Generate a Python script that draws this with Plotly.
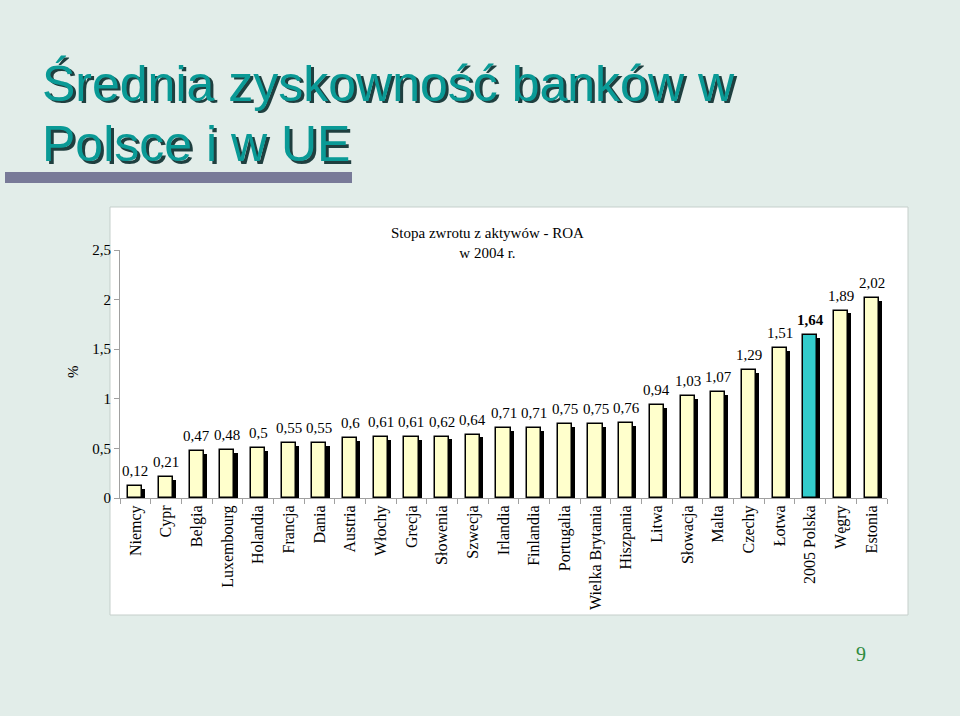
import plotly.graph_objects as go

categories = ["Niemcy", "Cypr", "Belgia", "Luxembourg", "Holandia", "Francja", "Dania",
              "Austria", "Włochy", "Grecja", "Słowenia", "Szwecja", "Irlandia", "Finlandia",
              "Portugalia", "Wielka Brytania", "Hiszpania", "Litwa", "Słowacja", "Malta",
              "Czechy", "Łotwa", "2005 Polska", "Węgry", "Estonia"]
roa = [0.12, 0.21, 0.47, 0.48, 0.5, 0.55, 0.55, 0.6, 0.61, 0.61, 0.62, 0.64, 0.71, 0.71,
       0.75, 0.75, 0.76, 0.94, 1.03, 1.07, 1.29, 1.51, 1.64, 1.89, 2.02]
highlight = "2005 Polska"
y_ticks = [0, 0.5, 1, 1.5, 2, 2.5]

SERIF = "Liberation Serif, Times New Roman, serif"
BG = "#E2EDE9"
TEAL_TITLE = "#0A9A96"

# plot-area geometry in px
L, R, T, B = 120, 887, 250, 498
W, H = 960, 716


def px_x(px):
    return (px - L) / (R - L)


def px_y(py):
    return (B - py) / (B - T)


bw = 0.46
fig = go.Figure()
# shadow bars
fig.add_trace(go.Bar(
    x=categories, y=[v - 0.03 for v in roa], width=bw, offset=-bw / 2 + 0.1,
    marker=dict(color="black", line=dict(width=0)), hoverinfo="skip", showlegend=False))
# main bars
fig.add_trace(go.Bar(
    x=categories, y=roa, width=bw, offset=-bw / 2,
    marker=dict(color=["#33CCCC" if c == highlight else "#FFFFCC" for c in categories],
                line=dict(color="black", width=1.5)),
    showlegend=False))

annotations = []
for c, v in zip(categories, roa):
    t = f"{v:g}".replace(".", ",")
    if c == highlight:
        t = f"<b>{t}</b>"
    annotations.append(dict(x=c, y=v, xref="x", yref="y", text=t, showarrow=False,
                            yanchor="bottom", yshift=5, font=dict(family=SERIF, size=15, color="black")))

# chart title
annotations.append(dict(x=px_x(487), y=px_y(243), xref="paper", yref="paper",
                        text="Stopa zwrotu z aktywów - ROA<br>w 2004 r.", showarrow=False,
                        xanchor="center", yanchor="middle",
                        font=dict(family=SERIF, size=15, color="black")))
# % axis label
annotations.append(dict(x=px_x(73), y=px_y(372), xref="paper", yref="paper", text="%",
                        textangle=-90, showarrow=False, xanchor="center", yanchor="middle",
                        font=dict(family=SERIF, size=15, color="black")))
# slide title with shadow
for line, cy in [("Średnia zyskowność banków w", 83), ("Polsce i w UE", 144)]:
    for dx, dy, col in [(2.5, 2.5, "#1F3F3F"), (0, 0, TEAL_TITLE)]:
        annotations.append(dict(x=px_x(40 + dx), y=px_y(cy + dy), xref="paper", yref="paper",
                                text=line, showarrow=False, xanchor="left", yanchor="middle",
                                font=dict(family="Liberation Sans, Arial, sans-serif", size=50, color=col)))
# page number
annotations.append(dict(x=px_x(868), y=px_y(667), xref="paper", yref="paper", text="9",
                        showarrow=False, font=dict(family=SERIF, size=20, color="#2E8B3E")))

shapes = [
    dict(type="rect", xref="paper", yref="paper", x0=px_x(110), x1=px_x(908),
         y0=px_y(615), y1=px_y(207), fillcolor="white", line=dict(color="#C5CFCB", width=1),
         layer="below"),
    dict(type="rect", xref="paper", yref="paper", x0=px_x(5), x1=px_x(352),
         y0=px_y(183), y1=px_y(172), fillcolor="#787A98", line=dict(width=0), layer="below"),
]

fig.update_layout(
    width=W, height=H,
    margin=dict(l=L, r=W - R, t=T, b=H - B),
    paper_bgcolor=BG, plot_bgcolor="white",
    barmode="overlay", bargap=0,
    separators=", ",
    annotations=annotations, shapes=shapes,
    font=dict(family=SERIF, color="black"),
)
fig.update_xaxes(type="category", showline=True, linecolor="#A0A0A0", linewidth=1,
                 ticks="outside", tickson="boundaries", ticklen=5, tickcolor="#A0A0A0",
                 tickangle=-90, tickfont=dict(family=SERIF, size=16, color="black"),
                 showgrid=False, range=[-0.5, len(categories) - 0.5])
fig.update_yaxes(range=[0, 2.5], tickvals=y_ticks, showline=True, linecolor="#A0A0A0",
                 linewidth=1, ticks="outside", ticklen=5, tickcolor="#A0A0A0",
                 tickfont=dict(family=SERIF, size=15, color="black"), showgrid=False,
                 zeroline=False)

fig.write_html("out.html")
